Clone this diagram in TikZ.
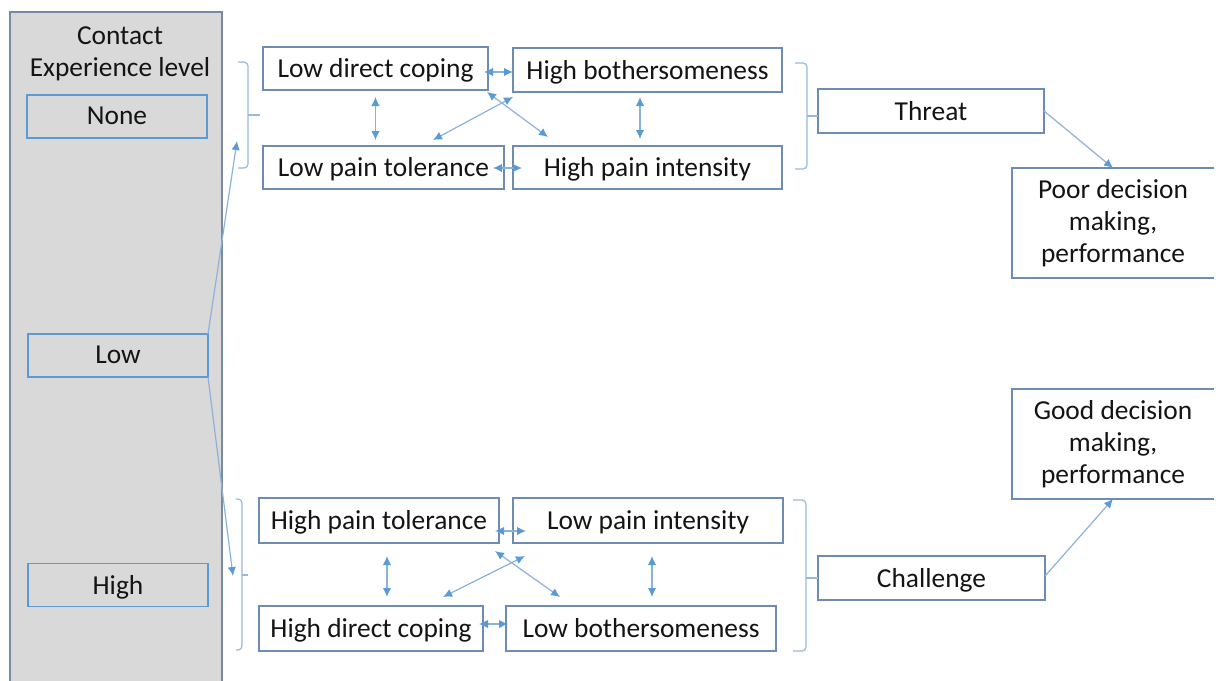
\documentclass[tikz,border=0pt]{standalone}
\usepackage{fontspec}
\setmainfont{Carlito}
\usetikzlibrary{arrows.meta,calc}
\definecolor{boxblue}{RGB}{108,140,182}
\definecolor{lvlblue}{RGB}{91,155,213}
\definecolor{arrblue}{RGB}{91,155,213}
\definecolor{linblue}{RGB}{140,178,220}
\definecolor{bracecol}{RGB}{150,185,222}
\definecolor{panelgray}{RGB}{217,217,217}
\definecolor{paneledge}{RGB}{120,138,165}
\definecolor{txt}{RGB}{20,20,20}
\tikzset{
  factor/.style={draw=boxblue, line width=1pt, fill=white, inner sep=0pt, outer sep=0pt,
    minimum height=21.5pt, text=txt, text depth=0.5pt},
  outcome/.style={inner sep=0pt, outer sep=0pt, minimum width=101pt, minimum height=55pt,
    text=txt, align=center},
  edge3/.style={draw=boxblue, line width=1pt},
  level/.style={draw=lvlblue, line width=0.7pt, inner sep=0pt, outer sep=0pt,
    minimum width=90pt, minimum height=21.5pt, text=txt, text depth=0.5pt},
  link/.style={draw=linblue, line width=0.6pt,
    {Latex[length=4.5pt,width=4.2pt,color=arrblue]}-{Latex[length=4.5pt,width=4.2pt,color=arrblue]}},
  feed/.style={draw=linblue, line width=0.6pt, -{Latex[length=4.5pt,width=4.2pt,color=arrblue]}},
  brace/.style={draw=bracecol, line width=0.6pt, rounded corners=2pt},
}
\begin{document}
\begin{tikzpicture}[x=0.5pt, y=-0.5pt, font=\fontsize{13.7}{16}\selectfont]
\useasboundingbox (0,0) rectangle (1218,680);
\clip (0,0) rectangle (1218,680);

% experience panel
\filldraw[fill=panelgray, draw=paneledge, line width=0.8pt] (10,12) rectangle (222,700);
\path (120,54) node[text=txt, align=center] (contact) {Contact\\Experience level};
\path (117,116.5) node[level] (none) {None};
\path (118,355.5) node[level] (low) {Low};
\path (118,585) node[level] (high) {High};

% threat group
\path (375.5,68.5) node[factor, minimum width=112.5pt] (ldc) {Low direct coping};
\path (647.5,70) node[factor, minimum width=134.5pt, minimum height=22pt] (hb) {High bothersomeness};
\path (383.5,167.5) node[factor, minimum width=120.5pt] (lpt) {Low pain tolerance};
\path (647.5,167.5) node[factor, minimum width=134.5pt] (hpi) {High pain intensity};
\path (931,111) node[factor, minimum width=113pt, minimum height=22pt] (threat) {Threat};
\path (1113,223) node[outcome] (poor) {Poor decision\\making,\\performance};
\draw[edge3] (poor.north east) -- (poor.north west) -- (poor.south west) -- (poor.south east);

% challenge group
\path (379,520.5) node[factor, minimum width=120pt, minimum height=22.5pt] (hpt) {High pain tolerance};
\path (648,520.5) node[factor, minimum width=135pt, minimum height=22.5pt] (lpi) {Low pain intensity};
\path (371,628.5) node[factor, minimum width=112pt, minimum height=22.5pt] (hdc) {High direct coping};
\path (641,628.5) node[factor, minimum width=135pt, minimum height=22.5pt] (lb) {Low bothersomeness};
\path (931.5,578) node[factor, minimum width=113.5pt, minimum height=22pt] (challenge) {Challenge};
\path (1113,444) node[outcome] (good) {Good decision\\making,\\performance};
\draw[edge3] (good.north east) -- (good.north west) -- (good.south west) -- (good.south east);

% braces
\path (237,141) coordinate (toptip);
\path (233,576) coordinate (bottip);
\draw[brace] (238,62) -| (248,168) -- (238,168);
\draw[brace] (248,115) -- (260,115);
\draw[brace] (795,63) -| (807,169) -- (795,169);
\draw[brace] (807,116) -- (threat.west |- 0,116);
\draw[brace] (236,499) -| (242,650) -- (236,650);
\draw[brace] (242,575) -- (248,575);
\draw[brace] (793,500) -| (806,651) -- (793,651);
\draw[brace] (806,578) -- (challenge.west);

% draw
\draw[link] ($(ldc.east)+(-4,3.5)$) -- ($(hb.west)+(0,2)$);
\draw[link] ($(ldc.south)+(0,7)$) -- ($(lpt.north)+(-8,-6)$);
\draw[link] ($(hb.south)+(-7.5,5)$) -- ($(hpi.north)+(-7.5,-7)$);
\draw[link] ($(lpt.east)+(-11,0.5)$) -- ($(hpi.west)+(9,0.5)$);
\draw[link] ($(ldc.south east)+(-1,2)$) -- ($(hpi.north west)+(35,-9)$);
\draw[link] ($(hb.south west)+(0,5)$) -- ($(lpt.north)+(49.5,-6)$);

\draw[link] ($(hpt.east)+(-4,10.5)$) -- ($(lpi.west)+(13,10.5)$);
\draw[link] ($(hpt.south)+(8,13)$) -- ($(hdc.north)+(16,-9)$);
\draw[link] ($(hpt.south east)+(-4,8)$) -- ($(lb.north west)+(54,-9)$);
\draw[link] ($(lpi.south west)+(12,13)$) -- ($(hdc.north)+(72,-9)$);
\draw[link] ($(lpi.south)+(4,13)$) -- ($(lb.north)+(11,-9)$);
\draw[link] ($(hdc.east)+(-4,-4.5)$) -- ($(lb.west)+(2,-4.5)$);

\draw[feed] (low.north east) -- (toptip);
\draw[feed] (low.south east) -- (bottip);
\draw[feed] (threat.east) -- (poor.north);
\draw[feed] ($(challenge.east)+(0,-2)$) -- (good.south);
\end{tikzpicture}
\end{document}
